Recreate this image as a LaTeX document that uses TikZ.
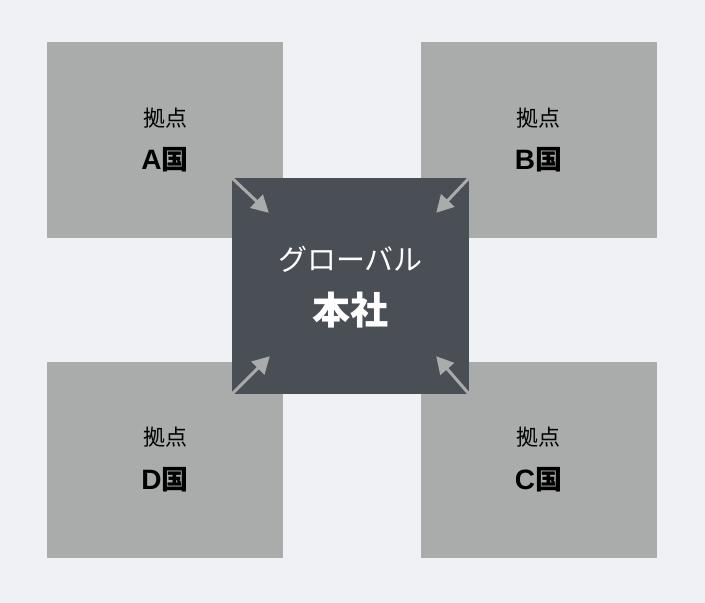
\documentclass[tikz,border=0pt]{standalone}
\usepackage{fontspec}
\setmainfont{Noto Sans CJK JP}
\newfontfamily\latinfont{Liberation Sans}
\usetikzlibrary{calc, arrows.meta, positioning}
\definecolor{bg}{HTML}{F0F1F5}
\definecolor{sitegray}{HTML}{A9ACAA}
\definecolor{hqgray}{HTML}{4A4E55}
\tikzset{
    sitenode/.style = {draw=none, fill=sitegray, rectangle, inner sep=0pt, 
      minimum width=236pt, minimum height=196pt},
    hqnode/.style = {draw=none, fill=hqgray, rectangle, inner sep=0pt, 
      minimum width=237pt, minimum height=216pt},
    smalltextnode/.style = {draw=none, fill=none, inner sep=0pt, font=\fontsize{22}{22}\selectfont},
    nametextnode/.style = {draw=none, fill=none, inner sep=0pt, font=\fontsize{27}{27}\selectfont\bfseries},
    hqtextnode/.style = {draw=none, fill=none, inner sep=0pt, text=white, font=\fontsize{29}{29}\selectfont},
    hqnametextnode/.style = {draw=none, fill=none, inner sep=0pt, text=white, font=\fontsize{38}{38}\selectfont\bfseries},
    connect/.style = {sitegray, line width=3pt, -{Triangle[length=17pt,width=18pt]}}
}

\begin{document}
\begin{tikzpicture}[x=1pt, y=-1pt]
\fill[bg] (0,0) rectangle (705,603);
\useasboundingbox (0,0) rectangle (705,603);
% sites
\node [name=siteA, sitenode] at (165,140) {};
\node [name=siteB, sitenode] at (538.5,140) {};
\node [name=siteD, sitenode] at (165,459.5) {};
\node [name=siteC, sitenode] at (538.5,459.5) {};
\foreach \s/\n in {A/A, B/B, C/C, D/D} {
  \node [name=top\s, smalltextnode] at ($(site\s.center)+(0,-22)$) {拠点};
  \node [name=name\s, nametextnode] at ($(site\s.center)+(0,20)$) {{\latinfont\fontsize{28}{28}\selectfont\bfseries\n}国};
}
% head office
\node [name=hq, hqnode] at (350.5,286) {};
\node [name=hqtop, hqtextnode] at ($(hq.center)+(0,-27)$) {グローバル};
\node [name=hqname, hqnametextnode] at ($(hq.center)+(0,24)$) {本社};
% arrows
\coordinate (tipA) at ($(hq.north west)+(37,35)$);
\coordinate (tipB) at ($(hq.north east)+(-33,35)$);
\coordinate (tipD) at ($(hq.south west)+(38,-38)$);
\coordinate (tipC) at ($(hq.south east)+(-33,-38)$);
\draw [connect] (hq.north west) -- (tipA);
\draw [connect] (hq.north east) -- (tipB);
\draw [connect] (hq.south west) -- (tipD);
\draw [connect] (hq.south east) -- (tipC);
\end{tikzpicture}
\end{document}
